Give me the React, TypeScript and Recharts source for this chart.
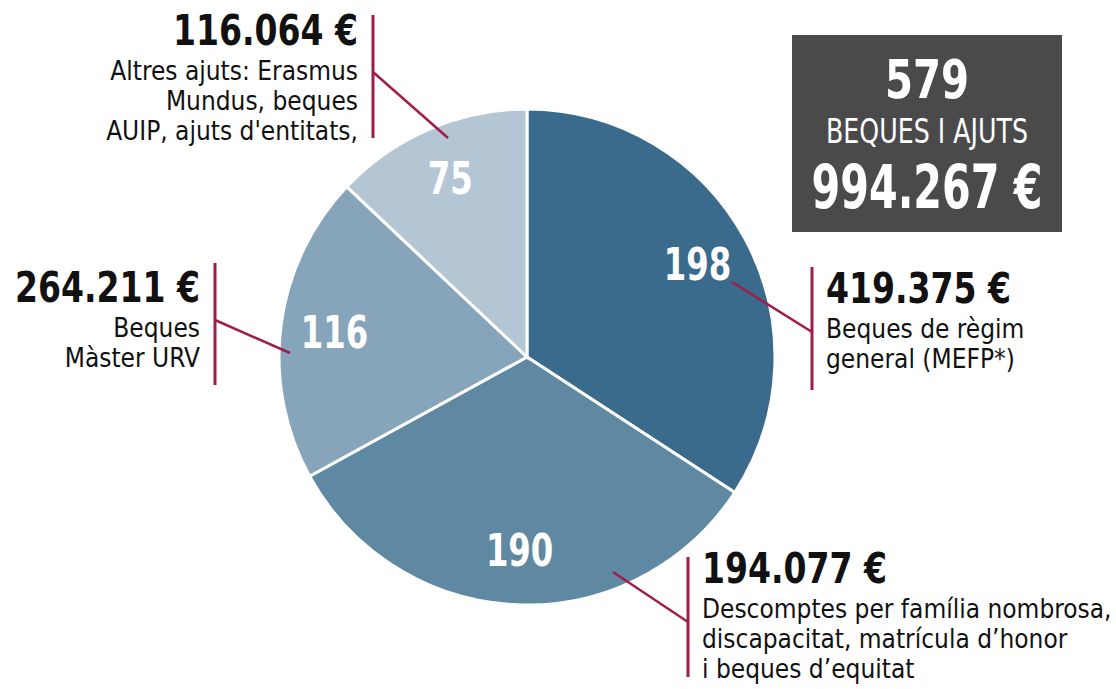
import { Cell, Pie, PieChart } from "recharts";

const CATEGORIES = [
  "Beques de règim general",
  "Descomptes i beques d'equitat",
  "Beques Màster URV",
  "Altres ajuts",
];
const COUNTS = [198, 190, 116, 75];
const AMOUNTS = ["419.375 €", "194.077 €", "264.211 €", "116.064 €"];
const DESCRIPTIONS = [
  ["Beques de règim", "general (MEFP*)"],
  ["Descomptes per família nombrosa,", "discapacitat, matrícula d’honor", "i beques d’equitat"],
  ["Beques", "Màster URV"],
  ["Altres ajuts: Erasmus", "Mundus, beques", "AUIP, ajuts d'entitats,"],
];
const TOTAL_COUNT = "579";
const TOTAL_LABEL = "BEQUES I AJUTS";
const TOTAL_AMOUNT = "994.267 €";

const COLORS = ["#3b6b8c", "#5f88a3", "#87a5ba", "#b4c6d3"];
const LINE_COLOR = "#a01d4a";
const FONT = "'Liberation Sans Narrow', 'DejaVu Sans Condensed', 'Roboto Condensed', Roboto, sans-serif";

const W = 1116;
const H = 689;
const CX = 527;
const CY = 357;
const R = 248;

// where each annotation sits: text anchor, bar and leader line
const NOTES = [
  { x: 826, y: 303, anchor: "start", barX: 812, barTop: 267, barBottom: 390, from: [732, 282], to: [812, 332] },
  { x: 702, y: 583, anchor: "start", barX: 688, barTop: 557, barBottom: 677, from: [613, 572], to: [688, 622] },
  { x: 200, y: 302, anchor: "end", barX: 215, barTop: 263, barBottom: 385, from: [290, 353], to: [215, 320] },
  { x: 358, y: 45, anchor: "end", barX: 373, barTop: 15, barBottom: 138, from: [448, 138], to: [373, 72] },
];

const data = CATEGORIES.map((name, i) => ({ name, value: COUNTS[i] }));

const RADIAN = Math.PI / 180;

function renderCount(props: any) {
  const { cx, cy, midAngle, value } = props;
  const r = 194;
  const x = cx + r * Math.cos(-midAngle * RADIAN);
  const y = cy + r * Math.sin(-midAngle * RADIAN);
  return (
    <text
      x={x}
      y={y}
      fill="#fff"
      textAnchor="middle"
      dominantBaseline="central"
      fontFamily={FONT}
      fontWeight="bold"
      fontSize={44}
      textLength={String(value).length * 22.5}
      lengthAdjust="spacingAndGlyphs"
    >
      {value}
    </text>
  );
}

export default function App() {
  return (
    <div style={{ position: "absolute", left: 0, top: 0, width: W, height: H, background: "#fff" }}>
      <PieChart width={W} height={H} margin={{ top: 0, right: 0, bottom: 0, left: 0 }}>
        <Pie
          data={data}
          dataKey="value"
          cx={CX}
          cy={CY}
          outerRadius={R}
          startAngle={90}
          endAngle={-270}
          stroke="#fff"
          strokeWidth={3}
          label={renderCount}
          labelLine={false}
          isAnimationActive={false}
        >
          {data.map((d, i) => (
            <Cell key={d.name} fill={COLORS[i]} />
          ))}
        </Pie>
      </PieChart>
      <svg
        width={W}
        height={H}
        style={{ position: "absolute", left: 0, top: 0, pointerEvents: "none" }}
      >
        {NOTES.map((n, i) => (
          <g key={i}>
            <line x1={n.barX} y1={n.barTop} x2={n.barX} y2={n.barBottom} stroke={LINE_COLOR} strokeWidth={3} />
            <line x1={n.from[0]} y1={n.from[1]} x2={n.to[0]} y2={n.to[1]} stroke={LINE_COLOR} strokeWidth={2.5} />
            <text
              x={n.x}
              y={n.y}
              textAnchor={n.anchor}
              fontFamily={FONT}
              fontWeight="bold"
              fontSize={43}
              textLength={185}
              lengthAdjust="spacingAndGlyphs"
              fill="#111"
            >
              {AMOUNTS[i]}
            </text>
            {DESCRIPTIONS[i].map((line, j) => (
              <text
                key={j}
                x={n.x}
                y={n.y + 35 + j * 30}
                textAnchor={n.anchor}
                fontFamily={FONT}
                fontSize={26}
                fill="#111"
              >
                {line}
              </text>
            ))}
          </g>
        ))}
        <rect x={792} y={35} width={270} height={197} fill="#4a4a4a" />
        <text
          x={927}
          y={98}
          textAnchor="middle"
          fontFamily={FONT}
          fontWeight="bold"
          fontSize={54}
          textLength={84}
          lengthAdjust="spacingAndGlyphs"
          fill="#fff"
        >
          {TOTAL_COUNT}
        </text>
        <text
          x={927}
          y={143}
          textAnchor="middle"
          fontFamily={FONT}
          fontSize={33}
          textLength={202}
          lengthAdjust="spacingAndGlyphs"
          fill="#fff"
        >
          {TOTAL_LABEL}
        </text>
        <text
          x={927}
          y={208}
          textAnchor="middle"
          fontFamily={FONT}
          fontWeight="bold"
          fontSize={60}
          textLength={231}
          lengthAdjust="spacingAndGlyphs"
          fill="#fff"
        >
          {TOTAL_AMOUNT}
        </text>
      </svg>
    </div>
  );
}
